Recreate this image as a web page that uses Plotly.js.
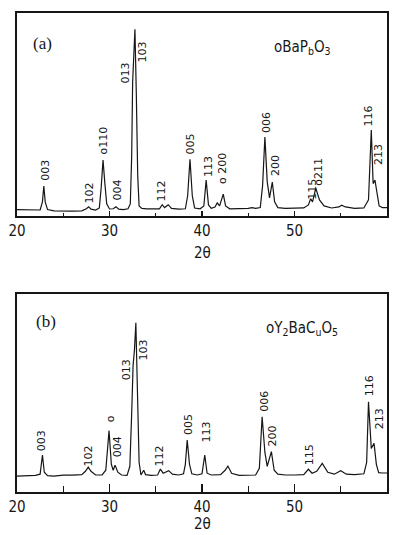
<!DOCTYPE html>
<html>
<head>
<meta charset="utf-8">
<script src="https://cdn.plot.ly/plotly-3.0.1.min.js"></script>
<style>
  html, body { margin: 0; padding: 0; background: #fff; }
  #chart { width: 393px; height: 535px; }
</style>
</head>
<body>
<div id="chart"></div>
<script>
// ---- Data (2θ in degrees, intensity in arbitrary units) ----
const twoThetaA = [20.0,21.0,22.0,22.5,22.75,22.9,23.05,23.3,24.0,25.0,26.0,27.0,27.5,27.75,28.0,28.5,28.9,29.1,29.3,29.5,29.7,30.0,30.4,30.7,31.0,31.5,32.0,32.25,32.4,32.5,32.6,32.75,32.9,33.05,33.2,33.5,34.0,35.0,35.4,35.7,35.95,36.35,36.7,37.5,38.2,38.45,38.7,38.95,39.2,39.8,40.2,40.45,40.7,41.0,41.4,41.65,41.9,42.3,42.55,43.0,44.0,45.0,45.4,45.8,46.3,46.55,46.8,47.05,47.3,47.6,47.85,48.2,49.0,50.0,51.0,51.5,51.75,51.95,52.3,52.7,53.2,54.0,54.8,55.1,55.5,56.5,57.5,58.0,58.3,58.5,58.7,58.9,59.15,59.5,60.0];
const intensityA = [3.2,3.0,2.8,3.0,7,14.8,7,3.2,2.6,2.4,2.4,2.6,3.6,4.6,3.4,3.0,4,14,27.6,16,6,3.5,3.6,4.6,3.4,3.2,3.6,6,30,66,78,92,60,20,5,3.8,3.6,3.4,3.6,5.6,4.2,5.6,3.8,3.4,3.6,10,28,10,4,3.6,5,17.7,5.5,3.8,4.5,6.5,5,10.8,5,3.6,3.6,3.8,4.2,3.8,4.2,15,38.9,17,9,16.7,7,4.2,3.8,3.8,4.0,5.5,8.5,7,13.8,8,5,4.0,4.5,5.4,4.5,3.8,4.0,8,42.4,16,17.7,12,5,4.2,4.2];

const twoThetaB = [20.0,21.0,22.0,22.5,22.75,22.95,23.3,24.0,25.0,26.0,27.0,27.4,27.7,28.0,28.5,29.2,29.6,29.95,30.2,30.4,30.6,30.9,31.3,31.9,32.2,32.4,32.55,32.7,32.85,33.0,33.2,33.4,33.7,33.9,34.5,35.2,35.5,35.8,36.4,36.8,37.5,38.0,38.2,38.4,38.65,38.9,39.5,40.0,40.3,40.55,41.0,42.0,42.5,42.8,43.2,44.0,45.0,45.8,46.2,46.5,46.8,47.05,47.5,47.8,48.2,49.0,50.0,51.0,51.5,51.9,52.4,53.0,53.6,54.3,55.0,55.6,56.5,57.5,57.8,58.0,58.3,58.6,58.85,59.1,59.5,60.0];
const intensityB = [8.0,8.2,8.4,9,18.7,10,8.3,8.0,8.5,8.5,8.8,10.5,12.6,10.5,8.6,8.6,11,31,14,11,13.6,10,8.6,8.4,13,40,64,72,85.5,55,15,8.6,11,8.8,8.4,8.6,11.6,9.5,10.8,9,8.6,9.2,14,26.3,14,9.2,8.6,9.2,18.7,9.5,8.6,8.8,11,13.1,9.5,8.4,8.4,8.6,12,38,20,13,20.4,11,9,8.6,8.6,8.8,11.5,9.5,10.5,14.5,10,9,10.8,9,8.8,9.2,15,45.6,22,24.6,14,9.8,9.6,9.6];

const xTickVals = [20, 30, 40, 50, 60];
const xTickText = ["20", "30", "40", "50", "60"];

// Peak (hkl) labels
const peakTextA = ["003","102","o110","004","013","103","112","005","113","o 200","006","200","115","o211","116","213"];
const peakTextB = ["003","102","o","004","013","103","112","005","113","006","200","115","116","213"];

// ---- Label placement (positions only, not data) ----
const peakPosA = [[23.11,22.7],[27.81,11.3],[29.33,37.4],[30.85,12.8],[31.71,70.4],[33.67,80.8],[35.62,12.3],[38.65,35.5],[40.64,24.6],[42.27,23.2],[46.9,46.3],[47.87,25.1],[51.85,13.3],[52.5,21.7],[58.1,49.3],[59.01,30.5]];
const peakPosB = [[22.74,25.8],[27.73,18.2],[30.09,36.9],[30.88,22.9],[31.79,61.6],[33.67,71.7],[35.51,18.2],[38.47,34.3],[40.47,30.3],[46.68,46],[47.62,28.3],[51.59,18.7],[58.07,53.5],[59.15,36.9]];

const ink = "#161616";
const lineStyle = { color: ink, width: 1.2 };

const traces = [
  { x: twoThetaA, y: intensityA, xaxis: "x", yaxis: "y", type: "scatter", mode: "lines", line: lineStyle, hoverinfo: "skip" },
  { x: twoThetaB, y: intensityB, xaxis: "x2", yaxis: "y2", type: "scatter", mode: "lines", line: lineStyle, hoverinfo: "skip" }
];

const tickFont = { family: "DejaVu Sans Condensed, DejaVu Sans", size: 15, color: ink };

function xAxis(anchor, majorLen, minorLen) {
  return {
    anchor: anchor, range: [20, 60], tickmode: "array", tickvals: xTickVals, ticktext: xTickText,
    ticks: "inside", ticklen: majorLen, tickwidth: 1.3, tickcolor: ink,
    minor: { tickvals: [25, 35, 45, 55], ticks: "inside", ticklen: minorLen, tickwidth: 1.3, tickcolor: ink },
    showline: true, linecolor: ink, linewidth: 1.8, mirror: true,
    showgrid: false, zeroline: false, tickfont: tickFont, fixedrange: true
  };
}
function yAxis(anchor, domain) {
  return {
    anchor: anchor, domain: domain, range: [0, 100], showticklabels: false, ticks: "",
    showline: true, linecolor: ink, linewidth: 1.8, mirror: true,
    showgrid: false, zeroline: false, fixedrange: true
  };
}

const labelFont = { family: "DejaVu Sans", size: 11, color: ink };
const annotations = [];
peakTextA.forEach((t, i) => annotations.push({
  text: t, x: peakPosA[i][0], y: peakPosA[i][1], xref: "x", yref: "y",
  textangle: -90, showarrow: false, font: labelFont, xanchor: "center", yanchor: "middle"
}));
peakTextB.forEach((t, i) => annotations.push({
  text: t, x: peakPosB[i][0], y: peakPosB[i][1], xref: "x2", yref: "y2",
  textangle: -90, showarrow: false, font: labelFont, xanchor: "center", yanchor: "middle"
}));

const panelFont = { family: "Liberation Serif", size: 17, color: ink };
annotations.push({ text: "(a)", x: 22.71, y: 85.2, xref: "x", yref: "y", showarrow: false, font: panelFont });
annotations.push({ text: "(b)", x: 23.15, y: 86.4, xref: "x2", yref: "y2", showarrow: false, font: panelFont });

const phaseFont = { family: "DejaVu Sans Condensed, DejaVu Sans", size: 15, color: ink };
annotations.push({ text: "oBaP<sub>b</sub>O<sub>3</sub>", x: 47.55, y: 82.8, xref: "x", yref: "y",
  xanchor: "left", showarrow: false, font: phaseFont });
annotations.push({ text: "oY<sub>2</sub>BaC<sub>u</sub>O<sub>5</sub>", x: 46.7, y: 82.8, xref: "x2", yref: "y2",
  xanchor: "left", showarrow: false, font: phaseFont });

const titleFont = { family: "DejaVu Sans Condensed, DejaVu Sans", size: 15, color: ink };
annotations.push({ text: "2θ", x: 0.5, y: (492 - 253) / 479, xref: "paper", yref: "paper", showarrow: false, font: titleFont, yanchor: "middle" });
annotations.push({ text: "2θ", x: 0.5, y: (492 - 524) / 479, xref: "paper", yref: "paper", showarrow: false, font: titleFont, yanchor: "middle" });

const layout = {
  width: 393, height: 535,
  margin: { l: 17, r: 6, t: 13, b: 43 },
  paper_bgcolor: "#ffffff", plot_bgcolor: "#ffffff",
  showlegend: false,
  xaxis: xAxis("y", 5, 3),
  yaxis: yAxis("x", [0.576, 1]),
  xaxis2: xAxis("y2", 8, 6),
  yaxis2: yAxis("x2", [0, 0.413]),
  annotations: annotations
};

Plotly.newPlot("chart", traces, layout, { staticPlot: true, displayModeBar: false });
</script>
</body>
</html>
